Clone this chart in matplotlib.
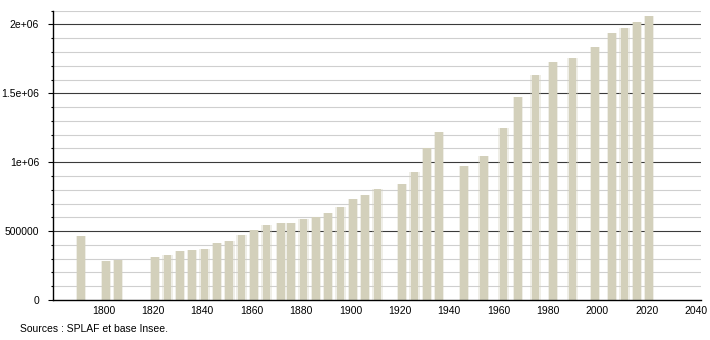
import matplotlib
matplotlib.use("Agg")
import matplotlib.pyplot as plt
from matplotlib.ticker import MultipleLocator, FixedLocator

plt.rcParams['font.family'] = ['Liberation Sans', 'DejaVu Sans']

years = [1791, 1801, 1806, 1821, 1826, 1831, 1836, 1841, 1846, 1851, 1856,
         1861, 1866, 1872, 1876, 1881, 1886, 1891, 1896, 1901, 1906, 1911,
         1921, 1926, 1931, 1936, 1946, 1954, 1962, 1968, 1975, 1982, 1990,
         1999, 2006, 2011, 2016, 2021]
population = [466000, 284000, 293000, 313000, 326000, 356000, 362000, 372000,
              413000, 428000, 472000, 507000, 545000, 560000, 560000, 591000,
              602000, 632000, 674000, 733000, 763000, 805000, 844000, 930000,
              1103000, 1222000, 973000, 1047000, 1249000, 1471000, 1630000,
              1725000, 1755000, 1835000, 1936000, 1975000, 2015000, 2060000]
x_ticks = [1800, 1820, 1840, 1860, 1880, 1900, 1920, 1940, 1960, 1980, 2000, 2020, 2040]
y_major = [0, 500000, 1000000, 1500000, 2000000]
y_labels = ["0", "500000", "1e+06", "1.5e+06", "2e+06"]
source_text = "Sources : SPLAF et base Insee."

bar_color = "#d3d0bb"

fig = plt.figure(figsize=(7.1, 3.4), dpi=100)
ax = fig.add_axes([53/710, 40/340, 648/710, 289.3/340])

ax.set_xlim(1779.6, 2042)
ax.set_ylim(0, 2100000)

# gridlines
ax.yaxis.set_major_locator(FixedLocator(y_major))
ax.yaxis.set_minor_locator(MultipleLocator(100000))
ax.grid(False)
for v in range(100000, 2100001, 100000):
    if v % 500000 == 0:
        ax.axhline(v, color="#3a3a3a", lw=0.8, zorder=1)
    else:
        ax.axhline(v, color="#cfcfcf", lw=0.8, zorder=1)

# bars with a soft halo
ax.bar(years, population, width=4.2, color=bar_color, alpha=0.35,
       linewidth=0, zorder=2)
ax.bar(years, population, width=3.1, color=bar_color, linewidth=0, zorder=3)

ax.set_yticks(y_major)
ax.set_yticklabels(y_labels)
ax.set_xticks(x_ticks)
ax.set_xticklabels([str(t) for t in x_ticks])

for s in ("top", "right"):
    ax.spines[s].set_visible(False)
for s in ("left", "bottom"):
    ax.spines[s].set_color("black")
    ax.spines[s].set_linewidth(1.0)
    ax.spines[s].set_zorder(5)

ax.tick_params(axis="y", which="major", length=3.6, width=0.8, pad=6.5,
               labelsize=7.45, colors="black")
ax.tick_params(axis="y", which="minor", length=1.5, width=0.8)
ax.tick_params(axis="x", which="both", length=0, pad=4, labelsize=7.45)

fig.text(20/710, 1 - 329.5/340, source_text, fontsize=7.45, va="center",
         ha="left", color="black")

fig.savefig("out.png", dpi=100)
